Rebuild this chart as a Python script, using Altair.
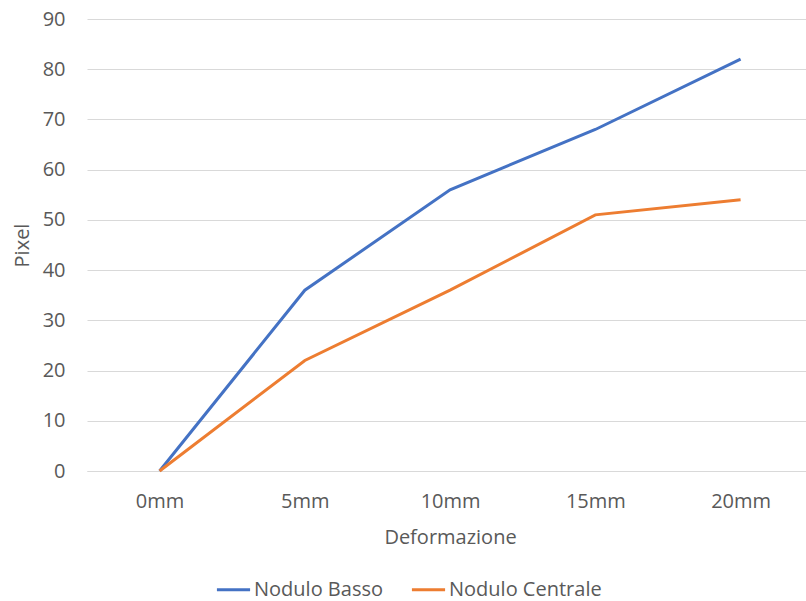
import altair as alt
import pandas as pd

categories = ["0mm", "5mm", "10mm", "15mm", "20mm"]
nodulo_basso = [0, 36, 56, 68, 82]
nodulo_centrale = [0, 22, 36, 51, 54]
series_names = ["Nodulo Basso", "Nodulo Centrale"]
colors = ["#4472C4", "#ED7D31"]

rows = []
for c, v in zip(categories, nodulo_basso):
    rows.append({"Deformazione": c, "Pixel": v, "Serie": series_names[0]})
for c, v in zip(categories, nodulo_centrale):
    rows.append({"Deformazione": c, "Pixel": v, "Serie": series_names[1]})
df = pd.DataFrame(rows)

FONT = "Open Sans"
GREY = "#595959"
FS = 20

chart = alt.Chart(df).mark_line(strokeWidth=3).encode(
    x=alt.X("Deformazione:N", sort=categories,
            scale=alt.Scale(type="point", padding=0.475, align=0.526),
            axis=alt.Axis(title="Deformazione", labelAngle=0, ticks=False, tickSize=0,
                          domain=True, domainColor="#D9D9D9", domainWidth=1,
                          labelPadding=20, labelFontSize=FS, labelColor=GREY, labelFont=FONT,
                          titleFontSize=FS, titleFontWeight="normal", titleColor=GREY, titleFont=FONT,
                          titleX=363, titleY=66, titleBaseline="middle", titleAnchor="middle")),
    y=alt.Y("Pixel:Q", scale=alt.Scale(domain=[0, 90], nice=False),
            axis=alt.Axis(title="Pixel", values=list(range(0, 91, 10)), ticks=False, tickSize=0,
                          domain=False, grid=True, gridColor="#D9D9D9", gridWidth=1,
                          labelPadding=22, labelFontSize=FS, labelColor=GREY, labelFont=FONT,
                          titleFontSize=FS, titleFontWeight="normal", titleColor=GREY, titleFont=FONT,
                          titleX=-65, titleY=226, titleAngle=-90, titleAlign="center",
                          titleBaseline="middle")),
    color=alt.Color("Serie:N", scale=alt.Scale(domain=series_names, range=colors),
                    legend=alt.Legend(title=None, orient="none", direction="horizontal",
                                      legendX=128, legendY=552, symbolType="stroke",
                                      symbolSize=1100, symbolStrokeWidth=3, labelFontSize=FS,
                                      labelColor=GREY, labelFont=FONT, labelOffset=2,
                                      columnPadding=22, labelLimit=300)),
).properties(
    width=719, height=452,
    autosize=alt.AutoSizeParams(type="none"),
    padding={"left": 87, "top": 19, "right": 0, "bottom": 130},
).configure_view(stroke=None)

chart.save("out.html", embed_options={"renderer": "svg", "actions": False})
